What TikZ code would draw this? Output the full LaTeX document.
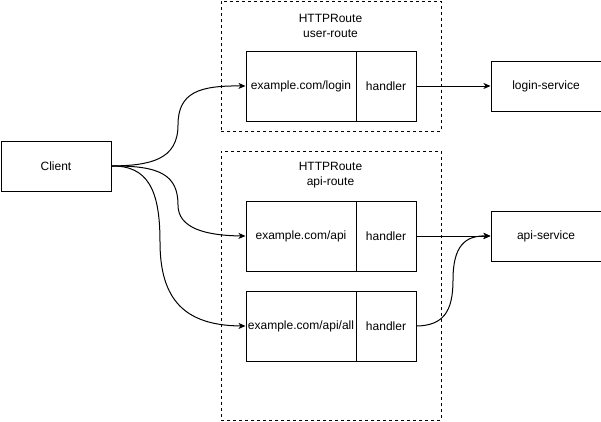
\documentclass[tikz,border=0pt]{standalone}
\usepackage{fontspec}
\setmainfont{Liberation Sans}
\usetikzlibrary{arrows.meta}
\begin{document}
\begin{tikzpicture}[x=1pt,y=-1pt,font=\fontsize{12}{15}\selectfont,
  box/.style={draw,line width=1pt,inner sep=0pt,anchor=north west,minimum width=110pt,minimum height=50pt},
  routebox/.style={draw,line width=1pt,inner sep=0pt,anchor=north west,minimum width=110pt,minimum height=70pt},
  handlerbox/.style={draw,line width=1pt,inner sep=0pt,anchor=north west,minimum width=60pt,minimum height=70pt},
  container/.style={draw,line width=1pt,dash pattern=on 3pt off 3pt,inner sep=0pt,anchor=north west,minimum width=220pt},
  conn/.style={line width=1pt,-{Stealth[length=7pt,width=6pt,inset=2pt]}}]
\useasboundingbox (0,0) rectangle (601,421);
% containers
\node[container,minimum height=130pt] (c1) at (220.5,0.5) {};
\node[container,minimum height=269pt] (c2) at (220.5,150.5) {};
\node[align=center] (t1) at (330.5,25.5) {HTTPRoute\\user-route};
\node[align=center] (t2) at (330.5,175.5) {HTTPRoute\\api-route};
% boxes
\node[box] (client) at (0.5,140.5) {Client};
\node[box] (login) at (490.5,60.5) {login-service};
\node[box] (api) at (490.5,210.5) {api-service};
\node[routebox] (r1p) at (245.5,50.5) {example.com/login};
\node[handlerbox] (r1h) at (355.5,50.5) {handler};
\node[routebox] (r2p) at (245.5,200.5) {example.com/api};
\node[handlerbox] (r2h) at (355.5,200.5) {handler};
\node[routebox] (r3p) at (245.5,290.5) {example.com/api/all};
\node[handlerbox] (r3h) at (355.5,290.5) {handler};
% connectors
\draw[conn] (client.east) .. controls (150,165.5) and (178,160) .. (178,125) .. controls (178,92) and (200,85.5) .. (r1p.west);
\draw[conn] (client.east) .. controls (160,165.5) and (178,175) .. (178,205) .. controls (178,228) and (205,235.5) .. (r2p.west);
\draw[conn] (client.east) .. controls (148,165.5) and (160,190) .. (160,242) .. controls (160,300) and (185,325.5) .. (r3p.west);
\draw[conn] (r1h.east) -- (login.west);
\draw[conn] (r2h.east) -- (api.west);
\draw[conn] (r3h.east) .. controls (443,325.5) and (453,312) .. (453,280) .. controls (453,246) and (465,235.5) .. (api.west);
\end{tikzpicture}
\end{document}
